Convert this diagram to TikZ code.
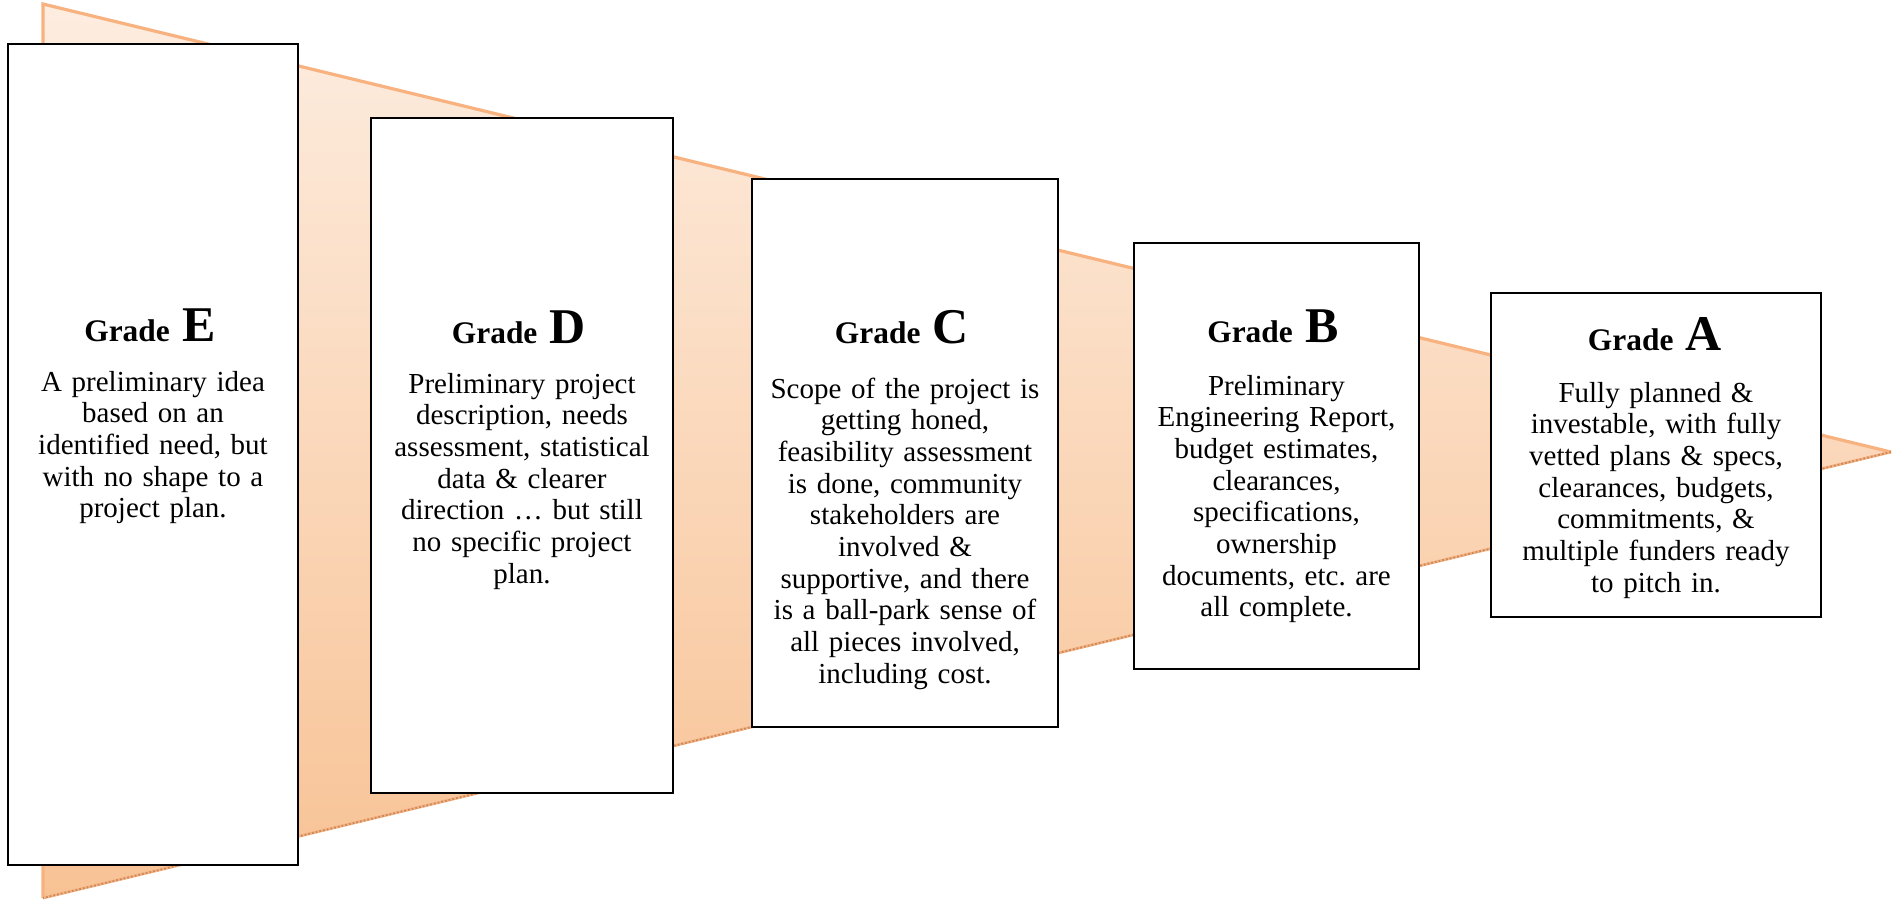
\documentclass[tikz,border=0pt]{standalone}
\usepackage{fontspec}
\setmainfont{Liberation Serif}
\usetikzlibrary{calc}
\definecolor{tritop}{RGB}{253,237,224}
\definecolor{tribot}{RGB}{248,194,148}
\definecolor{triline}{RGB}{248,178,128}
\definecolor{trishadow}{RGB}{196,138,96}
\tikzset{
  gbox/.style={draw=black, line width=1.4pt, fill=white, inner sep=0pt},
  gtitle/.style={anchor=base, inner sep=0pt},
  gbody/.style={anchor=base, inner sep=0pt, text width=220pt, align=center,
    font=\fontsize{14.5}{15.85}\selectfont},
}
\newcommand{\gradettl}[1]{{\fontsize{15.7}{18}\selectfont\bfseries Grade}{\fontsize{25}{28}\selectfont\bfseries\ #1}}
\begin{document}
\begin{tikzpicture}[x=0.5pt,y=-0.5pt]
\useasboundingbox (0,0) rectangle (1895,902);
% funnel triangle
\coordinate (t1) at (43,4);
\coordinate (t2) at (43,898);
\coordinate (tip) at (1891,452);
\shade[top color=tritop, bottom color=tribot] (t1) -- (tip) -- (t2) -- cycle;
\draw[triline, line width=1.6pt] (t2) -- (t1) -- (tip);
\draw[triline, line width=1.4pt] (tip) -- (t2);
\draw[trishadow, line width=0.9pt, densely dotted] (tip) -- (t2);
% boxes
\node[gbox, minimum width=145pt, minimum height=410.5pt] (boxE) at (153,454.5) {};
\node[gbox, minimum width=151pt, minimum height=337.5pt] (boxD) at (522,455.5) {};
\node[gbox, minimum width=153pt, minimum height=274pt] (boxC) at (905,453) {};
\node[gbox, minimum width=142.5pt, minimum height=213pt] (boxB) at (1276.5,456) {};
\node[gbox, minimum width=165pt, minimum height=162pt] (boxA) at (1656,455) {};
% titles
\node[gtitle] (ttlE) at (150,341) {\gradettl{E}};
\node[gtitle] (ttlD) at (519,343) {\gradettl{D}};
\node[gtitle] (ttlC) at (902,343) {\gradettl{C}};
\node[gtitle] (ttlB) at (1273,342) {\gradettl{B}};
\node[gtitle] (ttlA) at (1655,350) {\gradettl{A}};
% bodies
\node[gbody] (txtE) at (153,391) {A preliminary idea\\ based on an\\ identified need, but\\ with no shape to a\\ project plan.};
\node[gbody] (txtD) at (522,393) {Preliminary project\\ description, needs\\ assessment, statistical\\ data \& clearer\\ direction … but still\\ no specific project\\ plan.};
\node[gbody] (txtC) at (905,398) {Scope of the project is\\ getting honed,\\ feasibility assessment\\ is done, community\\ stakeholders are\\ involved \&\\ supportive, and there\\ is a ball-park sense of\\ all pieces involved,\\ including cost.};
\node[gbody] (txtB) at (1276.5,395) {Preliminary\\ Engineering Report,\\ budget estimates,\\ clearances,\\ specifications,\\ ownership\\ documents, etc.\ are\\ all complete.};
\node[gbody] (txtA) at (1656,402) {Fully planned \&\\ investable, with fully\\ vetted plans \& specs,\\ clearances, budgets,\\ commitments, \&\\ multiple funders ready\\ to pitch in.};
\end{tikzpicture}
\end{document}
